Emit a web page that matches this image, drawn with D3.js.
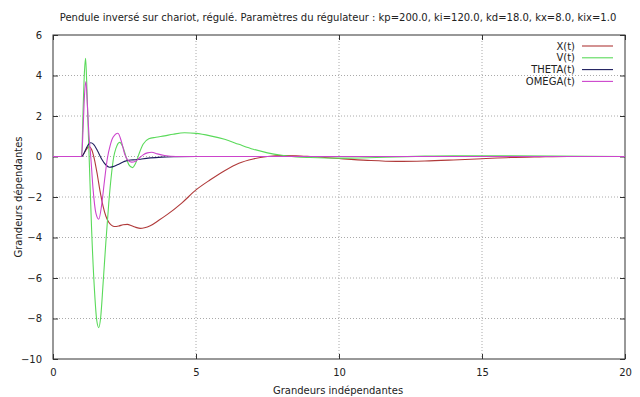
<!DOCTYPE html>
<html><head><meta charset="utf-8">
<script src="https://cdn.jsdelivr.net/npm/d3@7"></script>
<style>body{margin:0;background:#fff}svg{display:block}text{font-family:"DejaVu Sans",sans-serif;fill:#222}</style>
</head><body>
<script>
const titleText = "Pendule inversé sur chariot, régulé. Paramètres du régulateur : kp=200.0, ki=120.0, kd=18.0, kx=8.0, kix=1.0";
const xLabel = "Grandeurs indépendantes";
const yLabel = "Grandeurs dépendantes";
const xTicks = [0, 5, 10, 15, 20];
const yTicks = [6, 4, 2, 0, -2, -4, -6, -8, -10];

const seriesNames = ["X(t)", "V(t)", "THETA(t)", "OMEGA(t)"];
const seriesColors = ["#b03a3a", "#5ada5a", "#1c1c5c", "#cc44cc"];

const tX = [0,1.0,1.1,1.2,1.27,1.35,1.45,1.55,1.65,1.75,1.85,1.95,2.05,2.15,2.3,2.45,2.6,2.75,2.9,3.05,3.2,3.4,3.7,4.0,4.5,5.0,5.5,6.0,6.5,7.0,7.5,8.0,8.5,9.0,9.5,10,11,12,13,14,15,16,17,18,20];
const X  = [0,0,0.2,0.42,0.48,0.35,-0.15,-0.9,-1.75,-2.45,-2.95,-3.25,-3.4,-3.46,-3.43,-3.37,-3.35,-3.42,-3.5,-3.55,-3.52,-3.42,-3.15,-2.86,-2.3,-1.65,-1.15,-0.7,-0.33,-0.12,0.0,0.05,0.04,0.0,-0.05,-0.1,-0.19,-0.24,-0.22,-0.17,-0.11,-0.05,-0.02,0,0];

const tV = [0,1.0,1.05,1.1,1.14,1.18,1.22,1.27,1.35,1.45,1.53,1.6,1.67,1.75,1.85,1.95,2.05,2.12,2.2,2.33,2.45,2.55,2.65,2.78,2.9,3.0,3.15,3.35,3.6,3.9,4.2,4.6,5.0,5.5,6.0,6.5,7.0,7.5,8.0,8.5,9,10,11,12,13,14,15,16,20];
const V  = [0,0,2.2,4.2,4.85,3.6,1.8,-0.3,-3.6,-6.6,-8.1,-8.45,-7.9,-6.3,-4.2,-2.3,-0.8,-0.05,0.4,0.7,0.45,0,-0.4,-0.55,-0.3,0.1,0.6,0.88,0.95,1.02,1.1,1.17,1.14,1.02,0.85,0.6,0.36,0.18,0.06,-0.02,-0.05,-0.08,-0.06,-0.02,0.02,0.04,0.04,0.03,0];

const tT = [0,1.0,1.08,1.16,1.24,1.32,1.42,1.55,1.7,1.85,1.97,2.1,2.3,2.5,2.7,2.9,3.1,3.4,3.8,4.3,5,20];
const THETA = [0,0,0.15,0.4,0.6,0.68,0.6,0.3,-0.12,-0.42,-0.53,-0.5,-0.38,-0.24,-0.17,-0.16,-0.12,-0.07,-0.03,-0.01,0,0];

const tO = [0,1.0,1.05,1.1,1.15,1.2,1.26,1.32,1.4,1.5,1.6,1.7,1.8,1.9,2.0,2.1,2.27,2.4,2.5,2.6,2.75,2.87,3.0,3.15,3.3,3.45,3.65,3.9,4.3,5,20];
const OMEGA = [0,0,1.3,3.0,3.7,2.6,1.0,0,-1.6,-2.8,-3.1,-2.4,-1.2,-0.1,0.55,0.95,1.15,0.7,0.15,-0.15,-0.28,-0.25,-0.1,0.08,0.18,0.21,0.13,0.05,0,0,0];

const W = 640, H = 397;
const m = {left: 53, right: 15, top: 35, bottom: 38};
const svg = d3.select("body").append("svg").attr("width", W).attr("height", H);

const x = d3.scaleLinear().domain([0, 20]).range([m.left, W - m.right]);
const y = d3.scaleLinear().domain([-10, 6]).range([H - m.bottom, m.top]);

// grid
const g = svg.append("g");
g.selectAll(".gx").data(xTicks.slice(1, -1)).join("line")
  .attr("x1", d => x(d)).attr("x2", d => x(d)).attr("y1", y(6)).attr("y2", y(-10))
  .attr("stroke", "#aaa").attr("stroke-dasharray", "1,2");
g.selectAll(".gy").data(yTicks.slice(1, -1)).join("line")
  .attr("x1", x(0)).attr("x2", x(20)).attr("y1", d => y(d)).attr("y2", d => y(d))
  .attr("stroke", "#aaa").attr("stroke-dasharray", "1,2");

// axes (ticks inward, mirrored)
const tl = 5;
const axBottom = svg.append("g").attr("transform", `translate(0,${y(-10)})`)
  .call(d3.axisBottom(x).tickValues(xTicks).tickSize(-tl).tickPadding(10).tickFormat(d3.format("d")));
const axTop = svg.append("g").attr("transform", `translate(0,${y(6)})`)
  .call(d3.axisTop(x).tickValues(xTicks).tickSize(-tl).tickFormat(""));
const axLeft = svg.append("g").attr("transform", `translate(${x(0)},0)`)
  .call(d3.axisLeft(y).tickValues(yTicks).tickSize(-tl).tickPadding(11).tickFormat(d3.format("d")));
const axRight = svg.append("g").attr("transform", `translate(${x(20)},0)`)
  .call(d3.axisRight(y).tickValues(yTicks).tickSize(-tl).tickFormat(""));
[axBottom, axTop, axLeft, axRight].forEach(a => {
  a.selectAll(".domain").remove();
  a.selectAll(".tick line").attr("stroke", "#333");
  a.selectAll("text").attr("font-family", "DejaVu Sans").attr("font-size", 10).attr("fill", "#222");
});
svg.append("rect").attr("x", x(0)).attr("y", y(6)).attr("width", x(20) - x(0)).attr("height", y(-10) - y(6))
  .attr("fill", "none").attr("stroke", "#333").attr("stroke-width", 1);

// lines
const series = [[tX, X], [tV, V], [tT, THETA], [tO, OMEGA]];
const line = d3.line().x(d => x(d[0])).y(d => y(d[1])).curve(d3.curveMonotoneX);
series.forEach((s, i) => {
  const pts = s[0].map((t, j) => [t, s[1][j]]);
  svg.append("path").datum(pts).attr("d", line).attr("fill", "none")
    .attr("stroke", seriesColors[i]).attr("stroke-width", 1.1);
});

// legend
seriesNames.forEach((n, i) => {
  const ly = 46 + i * 11.8;
  svg.append("text").attr("x", 575).attr("y", ly).attr("dy", "0.35em").attr("text-anchor", "end")
    .attr("font-size", 10).text(n);
  svg.append("line").attr("x1", 582).attr("x2", 613).attr("y1", ly).attr("y2", ly)
    .attr("stroke", seriesColors[i]).attr("stroke-width", 1.1);
});

// titles
svg.append("text").attr("x", 338).attr("y", 17).attr("dy", "0.35em").attr("text-anchor", "middle")
  .attr("font-size", 10).text(titleText);
svg.append("text").attr("x", 338).attr("y", 390).attr("dy", "0.35em").attr("text-anchor", "middle")
  .attr("font-size", 10).text(xLabel);
svg.append("text").attr("transform", "translate(18,197) rotate(-90)").attr("dy", "0.35em").attr("text-anchor", "middle")
  .attr("font-size", 10).text(yLabel);
</script>
</body></html>
